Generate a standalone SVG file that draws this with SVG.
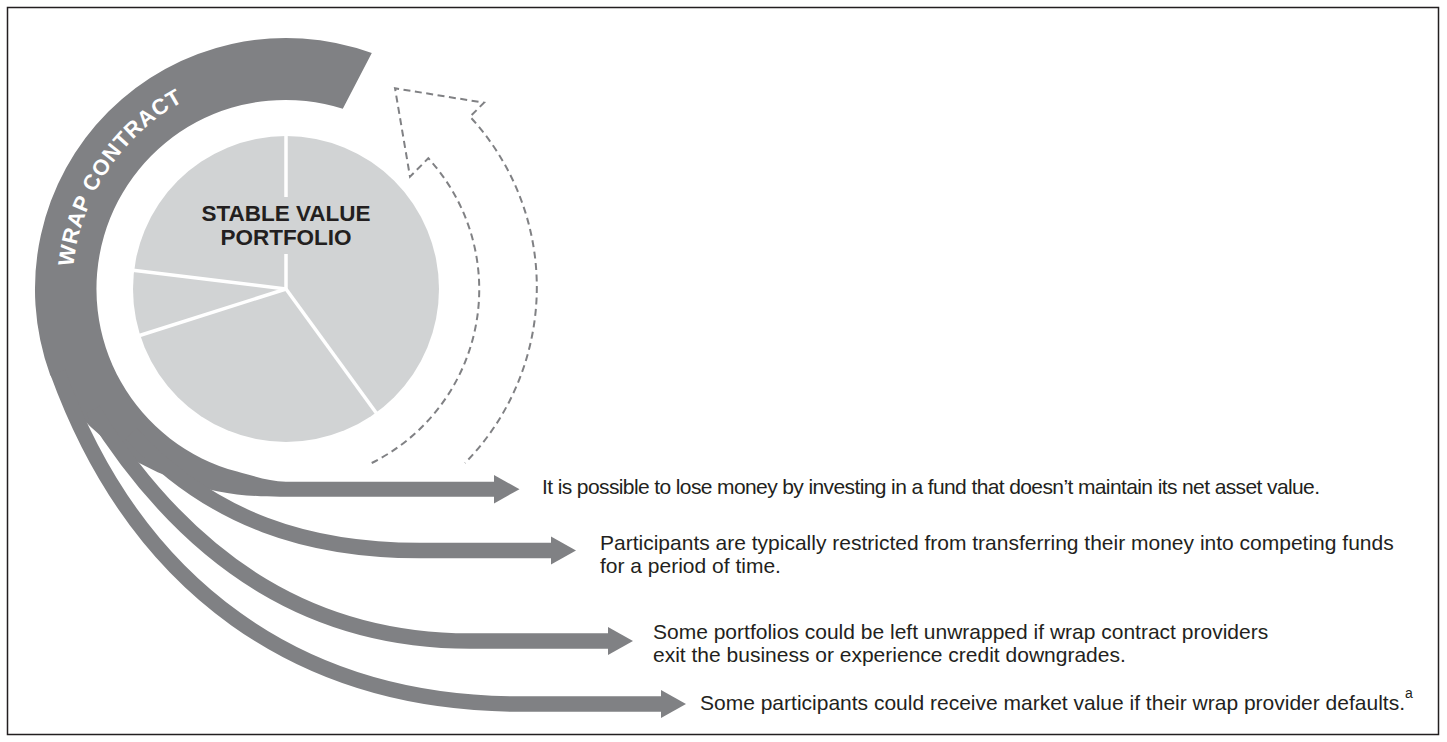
<svg xmlns="http://www.w3.org/2000/svg" width="1447" height="742" viewBox="0 0 1447 742">
<style>
.gray{fill:#808184}
.band{fill:none;stroke:#808184;stroke-width:15.5;stroke-linecap:butt}
.div{stroke:#ffffff;stroke-width:3.5;fill:none}
.dash{fill:none;stroke:#808184;stroke-width:2;stroke-dasharray:7 4.5;stroke-linejoin:miter}
.lbl{font-family:"Liberation Sans",Arial,Helvetica,sans-serif;font-size:21px;fill:#231f20}
.sup{font-family:"Liberation Sans",Arial,Helvetica,sans-serif;font-size:14px;fill:#231f20}
.title{font-family:"Liberation Sans",Arial,Helvetica,sans-serif;font-size:22.5px;font-weight:bold;fill:#231f20;text-anchor:middle}
.wrap{font-family:"Liberation Sans",Arial,Helvetica,sans-serif;font-size:22px;font-weight:bold;fill:#ffffff;letter-spacing:0.8px}
</style>
<defs>
<path id="wrapPath" d="M 73.2,266.6 A 214 214 0 0 1 393,103.7"/>
</defs>
<rect id="frame" x="7.5" y="7.5" width="1431" height="727" fill="#ffffff" stroke="#231f20" stroke-width="1.5"/>

<g id="stable-value-portfolio">
<circle cx="286" cy="289" r="153" fill="#d1d3d4"/>
<line class="div" x1="286" y1="134" x2="286" y2="197"/>
<line class="div" x1="286" y1="254" x2="286" y2="289"/>
<line class="div" x1="286" y1="289" x2="377" y2="414"/>
<line class="div" x1="286" y1="289" x2="131" y2="270"/>
<line class="div" x1="286" y1="289" x2="138" y2="336"/>
<text class="title" x="286" y="220.7">STABLE VALUE</text>
<text class="title" x="286" y="245">PORTFOLIO</text>
</g>

<g id="wrap-contract">
<path class="gray" d="M 371.8,53.1 A 251 251 0 0 0 50.1,374.8 L 62.0,393.4 L 75.4,410.6 L 90.0,426.3 L 105.7,440.3 L 122.3,452.7 L 139.7,463.3 L 157.7,472.3 L 176.1,479.4 C 213.4,493.8 250,496.7 280,496.7 L 495,496.7 L 495,481.7 L 286,481.7 C 270,481.7 256.4,476.8 237.1,471.6 A 189 189 0 1 1 342.8,108.8 Z"/>
<text class="wrap"><textPath href="#wrapPath">WRAP CONTRACT</textPath></text>
</g>

<g id="cycle-arrow">
<path class="dash" d="M 371.7,463 A 194 194 0 0 0 428.3,158.3 L 410,176.7 L 395,88.3 L 484,102.7 L 470,116.7 A 251 251 0 0 1 465,463"/>
</g>

<g id="connectors">
<path class="band" d="M 130.9,433.6 C 212.7,521.3 310,550.5 420,550.5 L 552,550.5"/>
<path class="band" d="M 92.7,409.8 C 193.4,570.9 320,641 470,641 L 609,641"/>
<path class="band" d="M 57.7,372.1 C 136.4,588.3 300,704 520,704 L 662,704"/>
<polygon class="gray" points="494,475 519.5,489.2 494,503.4"/>
<polygon class="gray" points="551,536.5 576,550.5 551,564.5"/>
<polygon class="gray" points="608,627 633,641 608,655"/>
<polygon class="gray" points="661,690 686,704 661,718"/>
</g>

<g id="risk-1">
<text class="lbl" x="542" y="494" textLength="778" lengthAdjust="spacing">It is possible to lose money by investing in a fund that doesn’t maintain its net asset value.</text>
</g>
<g id="risk-2">
<text class="lbl" x="600" y="550">Participants are typically restricted from transferring their money into competing funds</text>
<text class="lbl" x="600" y="573">for a period of time.</text>
</g>
<g id="risk-3">
<text class="lbl" x="653" y="639">Some portfolios could be left unwrapped if wrap contract providers</text>
<text class="lbl" x="653" y="661.5">exit the business or experience credit downgrades.</text>
</g>
<g id="risk-4">
<text class="lbl" x="700" y="710">Some participants could receive market value if their wrap provider defaults.<tspan class="sup" dy="-12.5">a</tspan></text>
</g>
</svg>
